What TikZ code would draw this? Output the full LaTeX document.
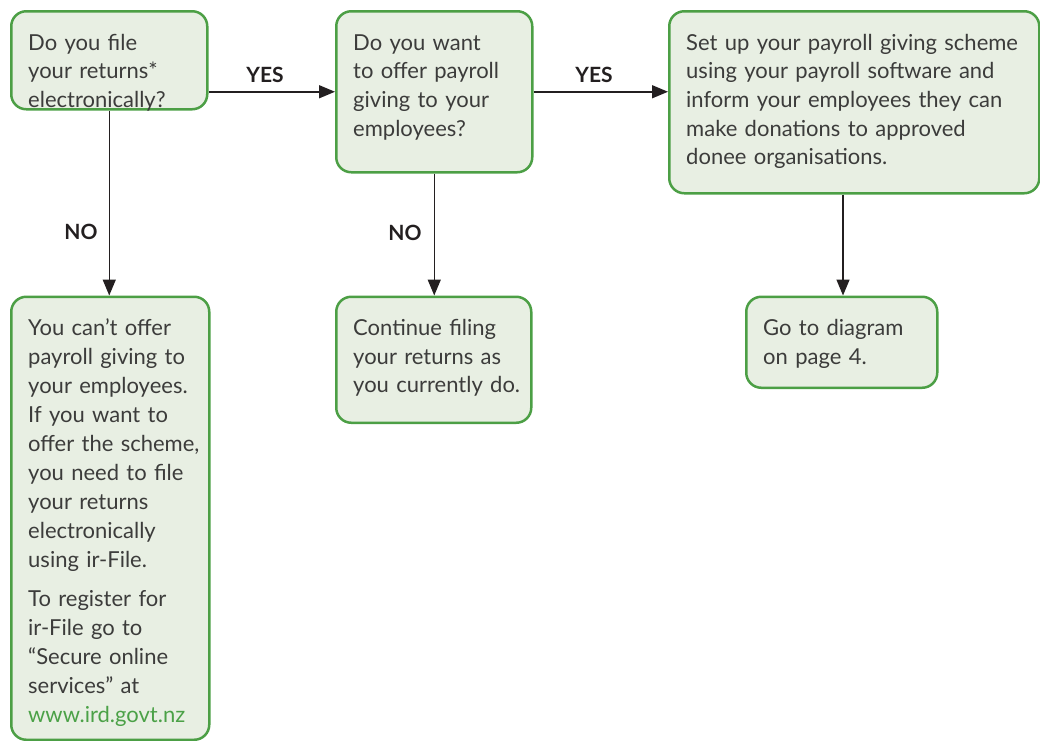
\documentclass[tikz,border=0pt]{standalone}
\usepackage{fontspec}
\setmainfont{Lato}
\usetikzlibrary{arrows.meta,calc}
\definecolor{boxgreen}{HTML}{4C9F45}
\definecolor{boxfill}{HTML}{E8EFE3}
\definecolor{txt}{HTML}{3C3C3B}
\definecolor{linkgreen}{HTML}{4BA147}
\definecolor{arr}{HTML}{231F20}
\begin{document}
\begin{tikzpicture}[x=1pt,y=-1pt,
 box/.style={draw=boxgreen, fill=boxfill, line width=2.5pt, rounded corners=15pt,
   inner sep=0pt, anchor=north west},
 tx/.style={anchor=base west, inner sep=0pt, text width=380pt, align=left,
   text=txt, font=\fontsize{22}{28.7}\selectfont},
 conn/.style={draw=arr, line width=1.5pt, -{Triangle[length=16pt,width=13pt]}},
 lbl/.style={font=\fontsize{21}{24}\selectfont\bfseries, text=arr, inner sep=0pt}]
\useasboundingbox (0,0) rectangle (1040,740);

\node[box, minimum width=196pt, minimum height=98pt]  (b1) at (10,10) {};
\node[box, minimum width=196pt, minimum height=161pt] (b2) at (335,10) {};
\node[box, minimum width=370pt, minimum height=182pt] (b3) at (668,10) {};
\node[box, minimum width=198pt, minimum height=443pt] (b4) at (10,295.5) {};
\node[box, minimum width=195pt, minimum height=126pt] (b5) at (335,295.5) {};
\node[box, minimum width=191pt, minimum height=91pt]  (b6) at (745,295.5) {};

\node[tx] (t1) at ($(b1.north west)+(18,40)$)
  {Do you file\\your returns*\\electronically?};
\node[tx] (t2) at ($(b2.north west)+(18,40)$)
  {Do you want\\to offer payroll\\giving to your\\employees?};
\node[tx] (t3) at ($(b3.north west)+(18,40)$)
  {Set up your payroll giving scheme\\using your payroll software and\\inform your employees they can\\make donations to approved\\donee organisations.};
\node[tx, font=\fontsize{22}{29}\selectfont] (t4) at ($(b4.north west)+(18,40)$)
  {You can’t offer\\payroll giving to\\your employees.\\If you want to\\offer the scheme,\\you need to file\\your returns\\electronically\\using ir-File.\\[10pt]To register for\\ir-File go to\\“Secure online\\services” at\\{\color{linkgreen}www.ird.govt.nz}};
\node[tx] (t5) at ($(b5.north west)+(18,40)$)
  {Continue filing\\your returns as\\you currently do.};
\node[tx] (t6) at ($(b6.north west)+(18,40)$)
  {Go to diagram\\on page 4.};

\coordinate (c3) at (843,0);
\draw[conn] (b1.east |- b2.west) -- (b2.west);
\draw[conn] (b2.east) -- (b3.west |- b2.east);
\draw[conn] (b1.south) -- (b1.south |- b4.north);
\draw[conn] (b2.south) -- (b2.south |- b5.north);
\draw[conn] (b3.south -| c3) -- (c3 |- b6.north);

\node[lbl] (yes1) at (265,75) {YES};
\node[lbl] (yes2) at (594,75) {YES};
\node[lbl] (no1) at (81,232) {NO};
\node[lbl] (no2) at (405,233) {NO};
\end{tikzpicture}
\end{document}
